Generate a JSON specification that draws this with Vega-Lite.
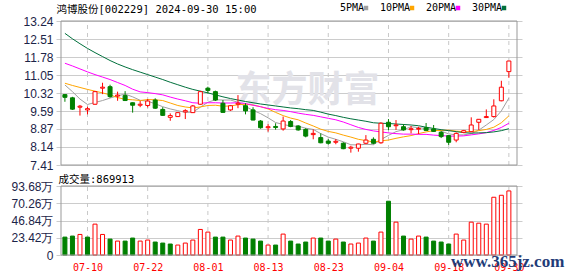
{
  "$schema": "https://vega.github.io/schema/vega-lite/v6.json",
  "width": 466,
  "height": 234,
  "autosize": "none",
  "padding": {"left": 56, "top": 21, "right": 56, "bottom": 21},
  "background": "white",
  "config": {
    "view": {"stroke": null},
    "axis": {"ticks": false, "tickSize": 0, "domain": false, "gridColor": "#cccccc", "gridWidth": 1, "labelFont": "Liberation Sans", "labelFontSize": 12, "labelColor": "#1c2448", "labelPadding": 3, "labelOverlap": false, "labelFlush": false}
  },
  "data": {"values": [
    {"d": "2024-07-05", "i": 0, "o": 10.26, "h": 10.28, "l": 9.97, "c": 10.15, "v": 24.3, "5PMA": 10.65, "10PMA": 10.72, "20PMA": 11.53, "30PMA": 12.74},
    {"d": "2024-07-08", "i": 1, "o": 10.13, "h": 10.17, "l": 9.64, "c": 9.67, "v": 25.7, "5PMA": 10.38, "10PMA": 10.63, "20PMA": 11.42, "30PMA": 12.52},
    {"d": "2024-07-09", "i": 2, "o": 9.75, "h": 9.84, "l": 9.41, "c": 9.79, "v": 27.9, "5PMA": 10.08, "10PMA": 10.55, "20PMA": 11.30, "30PMA": 12.32},
    {"d": "2024-07-10", "i": 3, "o": 9.64, "h": 9.77, "l": 9.46, "c": 9.69, "v": 24.3, "5PMA": 9.86, "10PMA": 10.47, "20PMA": 11.18, "30PMA": 12.13},
    {"d": "2024-07-11", "i": 4, "o": 9.87, "h": 10.40, "l": 9.85, "c": 10.38, "v": 41.9, "5PMA": 9.94, "10PMA": 10.40, "20PMA": 11.07, "30PMA": 11.96},
    {"d": "2024-07-12", "i": 5, "o": 10.52, "h": 10.74, "l": 10.28, "c": 10.56, "v": 27.9, "5PMA": 10.02, "10PMA": 10.33, "20PMA": 10.97, "30PMA": 11.80},
    {"d": "2024-07-15", "i": 6, "o": 10.58, "h": 10.66, "l": 10.13, "c": 10.18, "v": 21.6, "5PMA": 10.12, "10PMA": 10.25, "20PMA": 10.87, "30PMA": 11.64},
    {"d": "2024-07-16", "i": 7, "o": 10.20, "h": 10.38, "l": 10.01, "c": 10.24, "v": 18.9, "5PMA": 10.21, "10PMA": 10.14, "20PMA": 10.75, "30PMA": 11.50},
    {"d": "2024-07-17", "i": 8, "o": 10.22, "h": 10.40, "l": 10.00, "c": 10.02, "v": 18.9, "5PMA": 10.28, "10PMA": 10.07, "20PMA": 10.63, "30PMA": 11.38},
    {"d": "2024-07-18", "i": 9, "o": 9.93, "h": 9.94, "l": 9.53, "c": 9.83, "v": 23.0, "5PMA": 10.17, "10PMA": 10.05, "20PMA": 10.48, "30PMA": 11.27},
    {"d": "2024-07-19", "i": 10, "o": 9.83, "h": 10.00, "l": 9.75, "c": 9.87, "v": 18.9, "5PMA": 10.03, "10PMA": 10.02, "20PMA": 10.37, "30PMA": 11.17},
    {"d": "2024-07-22", "i": 11, "o": 9.82, "h": 10.08, "l": 9.74, "c": 10.00, "v": 20.3, "5PMA": 9.99, "10PMA": 10.06, "20PMA": 10.34, "30PMA": 11.07},
    {"d": "2024-07-23", "i": 12, "o": 10.04, "h": 10.11, "l": 9.68, "c": 9.71, "v": 17.6, "5PMA": 9.89, "10PMA": 10.05, "20PMA": 10.30, "30PMA": 10.97},
    {"d": "2024-07-24", "i": 13, "o": 9.66, "h": 9.75, "l": 9.40, "c": 9.42, "v": 16.2, "5PMA": 9.77, "10PMA": 10.02, "20PMA": 10.25, "30PMA": 10.87},
    {"d": "2024-07-25", "i": 14, "o": 9.34, "h": 9.50, "l": 9.20, "c": 9.41, "v": 14.9, "5PMA": 9.68, "10PMA": 9.92, "20PMA": 10.16, "30PMA": 10.76},
    {"d": "2024-07-26", "i": 15, "o": 9.37, "h": 9.55, "l": 9.36, "c": 9.53, "v": 13.5, "5PMA": 9.61, "10PMA": 9.82, "20PMA": 10.08, "30PMA": 10.66},
    {"d": "2024-07-29", "i": 16, "o": 9.56, "h": 9.67, "l": 9.27, "c": 9.61, "v": 16.2, "5PMA": 9.54, "10PMA": 9.76, "20PMA": 10.01, "30PMA": 10.56},
    {"d": "2024-07-30", "i": 17, "o": 9.53, "h": 9.84, "l": 9.52, "c": 9.80, "v": 20.3, "5PMA": 9.55, "10PMA": 9.72, "20PMA": 9.93, "30PMA": 10.47},
    {"d": "2024-07-31", "i": 18, "o": 9.87, "h": 10.41, "l": 9.85, "c": 10.38, "v": 34.7, "5PMA": 9.75, "10PMA": 9.76, "20PMA": 9.91, "30PMA": 10.40},
    {"d": "2024-08-01", "i": 19, "o": 10.52, "h": 10.58, "l": 10.31, "c": 10.43, "v": 31.1, "5PMA": 9.95, "10PMA": 9.82, "20PMA": 9.93, "30PMA": 10.33},
    {"d": "2024-08-02", "i": 20, "o": 10.38, "h": 10.42, "l": 10.00, "c": 10.04, "v": 24.3, "5PMA": 10.05, "10PMA": 9.83, "20PMA": 9.93, "30PMA": 10.25},
    {"d": "2024-08-05", "i": 21, "o": 9.91, "h": 10.04, "l": 9.53, "c": 9.54, "v": 24.3, "5PMA": 10.04, "10PMA": 9.79, "20PMA": 9.92, "30PMA": 10.17},
    {"d": "2024-08-06", "i": 22, "o": 9.64, "h": 9.84, "l": 9.60, "c": 9.81, "v": 20.3, "5PMA": 10.04, "10PMA": 9.80, "20PMA": 9.92, "30PMA": 10.10},
    {"d": "2024-08-07", "i": 23, "o": 9.87, "h": 10.24, "l": 9.71, "c": 9.91, "v": 25.7, "5PMA": 9.95, "10PMA": 9.85, "20PMA": 9.93, "30PMA": 10.04},
    {"d": "2024-08-08", "i": 24, "o": 9.81, "h": 9.91, "l": 9.46, "c": 9.60, "v": 23.0, "5PMA": 9.78, "10PMA": 9.87, "20PMA": 9.90, "30PMA": 9.98},
    {"d": "2024-08-09", "i": 25, "o": 9.64, "h": 9.75, "l": 9.22, "c": 9.23, "v": 21.6, "5PMA": 9.62, "10PMA": 9.84, "20PMA": 9.83, "30PMA": 9.93},
    {"d": "2024-08-12", "i": 26, "o": 9.19, "h": 9.23, "l": 8.88, "c": 8.92, "v": 18.9, "5PMA": 9.49, "10PMA": 9.77, "20PMA": 9.77, "30PMA": 9.88},
    {"d": "2024-08-13", "i": 27, "o": 8.92, "h": 9.06, "l": 8.76, "c": 8.96, "v": 13.5, "5PMA": 9.32, "10PMA": 9.68, "20PMA": 9.70, "30PMA": 9.84},
    {"d": "2024-08-14", "i": 28, "o": 8.97, "h": 9.10, "l": 8.84, "c": 8.93, "v": 13.5, "5PMA": 9.13, "10PMA": 9.54, "20PMA": 9.65, "30PMA": 9.80},
    {"d": "2024-08-15", "i": 29, "o": 8.87, "h": 9.37, "l": 8.80, "c": 9.19, "v": 28.4, "5PMA": 9.05, "10PMA": 9.41, "20PMA": 9.62, "30PMA": 9.76},
    {"d": "2024-08-16", "i": 30, "o": 9.17, "h": 9.23, "l": 8.94, "c": 8.97, "v": 18.9, "5PMA": 8.99, "10PMA": 9.31, "20PMA": 9.57, "30PMA": 9.72},
    {"d": "2024-08-19", "i": 31, "o": 8.99, "h": 9.02, "l": 8.80, "c": 8.83, "v": 14.9, "5PMA": 8.98, "10PMA": 9.24, "20PMA": 9.51, "30PMA": 9.69},
    {"d": "2024-08-20", "i": 32, "o": 8.85, "h": 8.90, "l": 8.53, "c": 8.58, "v": 17.6, "5PMA": 8.90, "10PMA": 9.11, "20PMA": 9.46, "30PMA": 9.65},
    {"d": "2024-08-21", "i": 33, "o": 8.64, "h": 8.85, "l": 8.45, "c": 8.69, "v": 23.0, "5PMA": 8.85, "10PMA": 8.99, "20PMA": 9.42, "30PMA": 9.62},
    {"d": "2024-08-22", "i": 34, "o": 8.52, "h": 8.69, "l": 8.29, "c": 8.31, "v": 23.0, "5PMA": 8.68, "10PMA": 8.86, "20PMA": 9.36, "30PMA": 9.55},
    {"d": "2024-08-23", "i": 35, "o": 8.38, "h": 8.46, "l": 8.23, "c": 8.29, "v": 18.9, "5PMA": 8.54, "10PMA": 8.77, "20PMA": 9.30, "30PMA": 9.47},
    {"d": "2024-08-26", "i": 36, "o": 8.33, "h": 8.46, "l": 8.25, "c": 8.37, "v": 21.6, "5PMA": 8.45, "10PMA": 8.71, "20PMA": 9.24, "30PMA": 9.41},
    {"d": "2024-08-27", "i": 37, "o": 8.29, "h": 8.33, "l": 8.05, "c": 8.07, "v": 17.6, "5PMA": 8.35, "10PMA": 8.62, "20PMA": 9.15, "30PMA": 9.34},
    {"d": "2024-08-28", "i": 38, "o": 8.09, "h": 8.19, "l": 7.91, "c": 8.13, "v": 14.9, "5PMA": 8.23, "10PMA": 8.54, "20PMA": 9.04, "30PMA": 9.28},
    {"d": "2024-08-29", "i": 39, "o": 8.09, "h": 8.27, "l": 7.95, "c": 8.26, "v": 16.2, "5PMA": 8.22, "10PMA": 8.45, "20PMA": 8.93, "30PMA": 9.23},
    {"d": "2024-08-30", "i": 40, "o": 8.29, "h": 8.62, "l": 8.25, "c": 8.42, "v": 23.0, "5PMA": 8.25, "10PMA": 8.40, "20PMA": 8.85, "30PMA": 9.18},
    {"d": "2024-09-02", "i": 41, "o": 8.45, "h": 8.53, "l": 8.25, "c": 8.29, "v": 18.9, "5PMA": 8.23, "10PMA": 8.34, "20PMA": 8.79, "30PMA": 9.12},
    {"d": "2024-09-03", "i": 42, "o": 8.31, "h": 9.14, "l": 8.27, "c": 9.10, "v": 31.1, "5PMA": 8.44, "10PMA": 8.39, "20PMA": 8.75, "30PMA": 9.10},
    {"d": "2024-09-04", "i": 43, "o": 9.14, "h": 9.27, "l": 8.82, "c": 8.96, "v": 73.0, "5PMA": 8.61, "10PMA": 8.42, "20PMA": 8.71, "30PMA": 9.09},
    {"d": "2024-09-05", "i": 44, "o": 9.00, "h": 9.23, "l": 8.83, "c": 9.03, "v": 44.6, "5PMA": 8.76, "10PMA": 8.49, "20PMA": 8.68, "30PMA": 9.07},
    {"d": "2024-09-06", "i": 45, "o": 8.96, "h": 9.06, "l": 8.80, "c": 8.83, "v": 25.7, "5PMA": 8.84, "10PMA": 8.55, "20PMA": 8.66, "30PMA": 9.05},
    {"d": "2024-09-09", "i": 46, "o": 8.84, "h": 8.99, "l": 8.69, "c": 8.88, "v": 21.6, "5PMA": 8.96, "10PMA": 8.60, "20PMA": 8.66, "30PMA": 9.03},
    {"d": "2024-09-10", "i": 47, "o": 8.86, "h": 8.96, "l": 8.66, "c": 8.89, "v": 25.7, "5PMA": 8.92, "10PMA": 8.68, "20PMA": 8.65, "30PMA": 9.00},
    {"d": "2024-09-11", "i": 48, "o": 8.92, "h": 9.11, "l": 8.80, "c": 8.81, "v": 24.3, "5PMA": 8.89, "10PMA": 8.75, "20PMA": 8.65, "30PMA": 8.94},
    {"d": "2024-09-12", "i": 49, "o": 8.87, "h": 9.03, "l": 8.75, "c": 8.77, "v": 18.9, "5PMA": 8.84, "10PMA": 8.80, "20PMA": 8.62, "30PMA": 8.89},
    {"d": "2024-09-13", "i": 50, "o": 8.73, "h": 8.79, "l": 8.50, "c": 8.56, "v": 17.6, "5PMA": 8.78, "10PMA": 8.81, "20PMA": 8.60, "30PMA": 8.84},
    {"d": "2024-09-18", "i": 51, "o": 8.60, "h": 8.62, "l": 8.22, "c": 8.33, "v": 14.9, "5PMA": 8.67, "10PMA": 8.82, "20PMA": 8.58, "30PMA": 8.80},
    {"d": "2024-09-19", "i": 52, "o": 8.42, "h": 8.73, "l": 8.33, "c": 8.69, "v": 28.4, "5PMA": 8.63, "10PMA": 8.78, "20PMA": 8.58, "30PMA": 8.76},
    {"d": "2024-09-20", "i": 53, "o": 8.73, "h": 8.83, "l": 8.70, "c": 8.80, "v": 20.3, "5PMA": 8.63, "10PMA": 8.76, "20PMA": 8.59, "30PMA": 8.72},
    {"d": "2024-09-23", "i": 54, "o": 8.76, "h": 9.34, "l": 8.74, "c": 9.03, "v": 44.6, "5PMA": 8.68, "10PMA": 8.76, "20PMA": 8.63, "30PMA": 8.70},
    {"d": "2024-09-24", "i": 55, "o": 9.14, "h": 9.27, "l": 8.83, "c": 9.26, "v": 43.2, "5PMA": 8.82, "10PMA": 8.80, "20PMA": 8.67, "30PMA": 8.71},
    {"d": "2024-09-25", "i": 56, "o": 9.33, "h": 9.66, "l": 9.33, "c": 9.37, "v": 41.9, "5PMA": 9.03, "10PMA": 8.85, "20PMA": 8.72, "30PMA": 8.72},
    {"d": "2024-09-26", "i": 57, "o": 9.37, "h": 10.07, "l": 9.33, "c": 9.80, "v": 78.4, "5PMA": 9.25, "10PMA": 8.94, "20PMA": 8.81, "30PMA": 8.75},
    {"d": "2024-09-27", "i": 58, "o": 10.01, "h": 10.82, "l": 9.99, "c": 10.56, "v": 81.1, "5PMA": 9.60, "10PMA": 9.12, "20PMA": 8.93, "30PMA": 8.80},
    {"d": "2024-09-30", "i": 59, "o": 11.19, "h": 11.62, "l": 10.94, "c": 11.62, "v": 86.99, "5PMA": 10.12, "10PMA": 9.40, "20PMA": 9.10, "30PMA": 8.88}
  ]},
  "encoding": {
    "x": {"field": "i", "type": "quantitative", "title": null,
      "scale": {"domain": [-0.52, 60.08], "nice": false, "zero": false},
      "axis": {"values": [3, 11, 19, 27, 35, 43, 51, 59], "tickCount": 20, "labelExpr": "['07-10','07-22','08-01','08-13','08-23','09-04','09-18','09-30'][indexof([3,11,19,27,35,43,51,59], datum.value)]", "grid": false, "labelColor": "#ff0000", "labelFont": "DejaVu Sans Mono", "labelFontSize": 10, "labelPadding": 7}}
  },
  "layer": [
    {
      "layer": [
        {
          "transform": [{"filter": {"field": "i", "oneOf": [3, 11, 19, 27, 35, 43, 51, 59]}}],
          "mark": {"type": "rule", "color": "#c8c8c8", "strokeDash": [4, 4], "strokeWidth": 1},
          "encoding": {
            "y": {"datum": 7.41, "type": "quantitative",
              "scale": {"domain": [7.41, 13.24], "range": [144, 0], "nice": false, "zero": false},
              "axis": {"orient": "left", "values": [7.41, 8.14, 8.87, 9.59, 10.32, 11.05, 11.78, 12.51, 13.24], "tickCount": 20, "format": ".2f", "grid": true, "labelOverlap": false, "labelBound": false,
                "title": "鸿博股份[002229] 2024-09-30 15:00", "titleAngle": 0, "titleX": 0, "titleY": -8.5, "titleAlign": "left", "titleBaseline": "alphabetic", "titleFont": "DejaVu Sans Mono, Noto Sans CJK SC", "titleFontSize": 10.5, "titleFontWeight": "normal", "titleColor": "#000000"}},
            "y2": {"datum": 13.24}
          }
        },
        {
          "data": {"values": [{"wm": "东方财富", "wx": 32.25, "wy": 10.41}]},
          "mark": {"type": "text", "font": "Noto Sans CJK SC", "fontSize": 36, "fontWeight": "bold", "fill": "#e2e2e8", "baseline": "middle", "align": "center"},
          "encoding": {
            "x": {"field": "wx", "type": "quantitative"},
            "y": {"field": "wy", "type": "quantitative"},
            "text": {"field": "wm"}
          }
        },
        {
          "transform": [{"fold": ["5PMA", "10PMA", "20PMA", "30PMA"], "as": ["ma", "val"]}],
          "mark": {"type": "line", "strokeWidth": 1},
          "encoding": {
            "y": {"field": "val", "type": "quantitative"},
            "color": {"field": "ma", "type": "nominal",
              "scale": {"domain": ["5PMA", "10PMA", "20PMA", "30PMA"], "range": ["#a0a0a0", "#ffa500", "#ff00ff", "#00703c"]},
              "legend": {"title": null, "orient": "none", "legendX": 305, "legendY": -18, "direction": "horizontal", "symbolType": "square", "symbolSize": 20, "symbolStrokeWidth": 0, "labelFont": "DejaVu Sans Mono", "labelFontSize": 10, "labelColor": "#000000", "labelAlign": "right", "labelOffset": -7, "columnPadding": 10, "padding": 0, "rowPadding": 0,
                "encode": {"symbols": {"update": {"fill": {"signal": "scale('color', datum.value)"}}}}}}
          }
        },
        {
          "mark": {"type": "rule", "strokeWidth": 1},
          "encoding": {
            "y": {"field": "l", "type": "quantitative"},
            "y2": {"field": "h"},
            "color": {"condition": {"test": "datum.c >= datum.o", "value": "#ff0000"}, "value": "#008000"}
          }
        },
        {
          "mark": {"type": "bar", "size": 4, "strokeWidth": 1},
          "encoding": {
            "y": {"field": "o", "type": "quantitative"},
            "y2": {"field": "c"},
            "fill": {"condition": {"test": "datum.c >= datum.o", "value": "#ffffff"}, "value": "#008000"},
            "stroke": {"condition": {"test": "datum.c >= datum.o", "value": "#ff0000"}, "value": "#008000"}
          }
        },
        {
          "data": {"values": [{"x0": -0.52, "x1": 60.08, "y0": 7.41, "y1": 13.24}]},
          "mark": {"type": "rect", "fillOpacity": 0, "stroke": "#999999", "strokeWidth": 1},
          "encoding": {
            "x": {"field": "x0", "type": "quantitative"},
            "x2": {"field": "x1"},
            "y": {"field": "y0", "type": "quantitative"},
            "y2": {"field": "y1"}
          }
        }
      ]
    },
    {
      "layer": [
        {
          "transform": [{"filter": {"field": "i", "oneOf": [3, 11, 19, 27, 35, 43, 51, 59]}}],
          "mark": {"type": "rule", "color": "#c8c8c8", "strokeDash": [4, 4], "strokeWidth": 1},
          "encoding": {
            "y": {"datum": 0, "type": "quantitative",
              "scale": {"domain": [0, 93.68], "range": [234, 165], "nice": false},
              "axis": {"orient": "left", "values": [0, 23.42, 46.84, 70.26, 93.68], "tickCount": 20, "labelExpr": "datum.value == 0 ? '0' : format(datum.value, '.2f') + '万'", "grid": true, "labelOverlap": false, "labelBound": false,
                "title": "成交量:869913", "titleAngle": 0, "titleX": 2, "titleY": 161.5, "titleAlign": "left", "titleBaseline": "alphabetic", "titleFont": "DejaVu Sans Mono, Noto Sans CJK SC", "titleFontSize": 10.5, "titleFontWeight": "normal", "titleColor": "#000000"}},
            "y2": {"datum": 93.68}
          }
        },
        {
          "transform": [{"window": [{"op": "lag", "field": "c", "as": "pc"}], "sort": [{"field": "i"}]}],
          "mark": {"type": "bar", "size": 4, "strokeWidth": 1},
          "encoding": {
            "y": {"field": "v", "type": "quantitative"},
            "fill": {"condition": {"test": "datum.pc != null && datum.c > datum.pc", "value": "#ffffff"}, "value": "#008000"},
            "stroke": {"condition": {"test": "datum.pc != null && datum.c > datum.pc", "value": "#ff0000"}, "value": "#008000"}
          }
        },
        {
          "data": {"values": [{"x0": -0.52, "x1": 60.08, "y0": 0, "y1": 93.68}]},
          "mark": {"type": "rect", "fillOpacity": 0, "stroke": "#999999", "strokeWidth": 1},
          "encoding": {
            "x": {"field": "x0", "type": "quantitative"},
            "x2": {"field": "x1"},
            "y": {"field": "y0", "type": "quantitative"},
            "y2": {"field": "y1"}
          }
        },
        {
          "data": {"values": [{"wm": "www.365jz.com", "wx": 58.84, "wy": -9.5}]},
          "mark": {"type": "text", "font": "Liberation Serif", "fontSize": 17, "fontWeight": "bold", "fill": "#1f3c78", "baseline": "middle", "align": "center"},
          "encoding": {
            "x": {"field": "wx", "type": "quantitative"},
            "y": {"field": "wy", "type": "quantitative"},
            "text": {"field": "wm"}
          }
        }
      ]
    }
  ],
  "resolve": {"scale": {"y": "independent"}, "axis": {"y": "independent"}}
}
